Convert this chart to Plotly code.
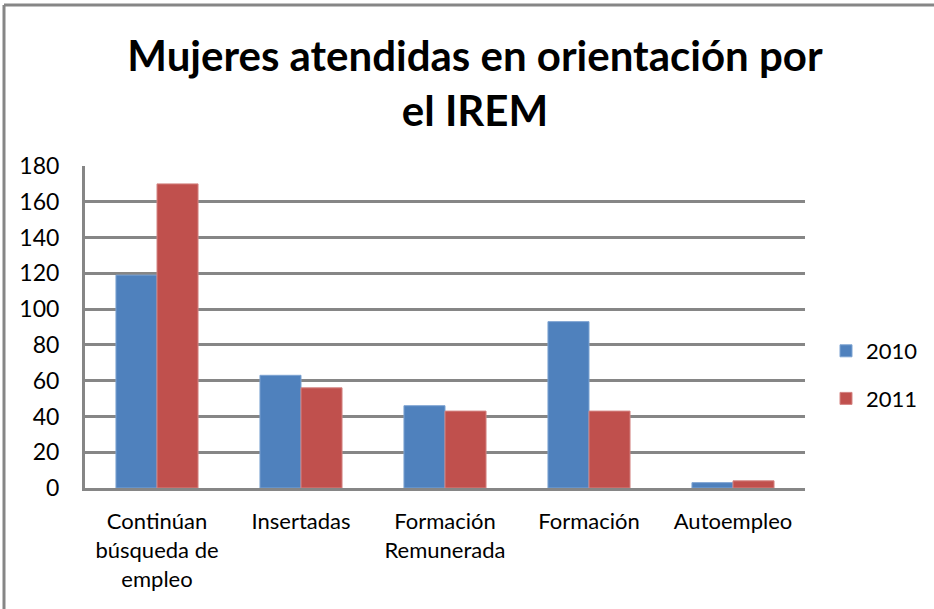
import plotly.graph_objects as go

categories = ["Continúan<br>búsqueda de<br>empleo", "Insertadas", "Formación<br>Remunerada", "Formación", "Autoempleo"]
values_2010 = [119, 63, 46, 93, 3]
values_2011 = [170, 56, 43, 43, 4]
y_ticks = [0, 20, 40, 60, 80, 100, 120, 140, 160, 180]

FONT = "Lato"
W, H = 934, 609
L, R, T, B = 85, 805, 166, 488

def px(x):
    return (x - L) / (R - L)

def py(y):
    return (B - y) / (B - T)

fig = go.Figure()
fig.add_trace(go.Bar(x=categories, y=values_2010, name="2010", marker=dict(color="#4F81BD", line=dict(color="#7DA3D2", width=1)), legendgroup="a"))
fig.add_trace(go.Bar(x=categories, y=values_2011, name="2011", marker=dict(color="#C0504D", line=dict(color="#D48583", width=1)), legendgroup="b"))

fig.update_layout(
    width=W, height=H,
    margin=dict(l=L, r=W - R, t=T, b=H - B, autoexpand=False),
    paper_bgcolor="white", plot_bgcolor="white",
    bargap=0.43, bargroupgap=0,
    font=dict(family=FONT, color="black", size=21),
    title=dict(text="<b>Mujeres atendidas en orientación por<br>el IREM</b>", x=475 / W, xanchor="center",
               y=1 - 71 / H, yanchor="middle", yref="container",
               font=dict(family=FONT, size=42, color="black")),
    legend=dict(x=px(826), xanchor="left", y=py(375), yanchor="middle", font=dict(size=22, family=FONT),
                tracegroupgap=16, itemwidth=30, bgcolor="rgba(0,0,0,0)"),
    xaxis=dict(showgrid=False, showline=True, linecolor="#868686", linewidth=3, ticks="",
               tickfont=dict(size=22, family=FONT), ticklabelstandoff=12),
    yaxis=dict(range=[0, 180], tickvals=y_ticks, showgrid=True, gridcolor="#868686", gridwidth=3,
               showline=True, linecolor="#868686", linewidth=3, ticks="", zeroline=False,
               tickfont=dict(size=23, family=FONT), ticklabelstandoff=18),
    shapes=[
        dict(type="line", xref="paper", yref="paper", x0=px(4), x1=px(934), y0=py(5), y1=py(5),
             line=dict(color="#868686", width=3)),
        dict(type="line", xref="paper", yref="paper", x0=px(4), x1=px(4), y0=py(5), y1=py(609),
             line=dict(color="#868686", width=3)),
    ],
)

fig.write_html("out.html", config={"displayModeBar": False},
               post_script="document.body.style.margin='0';document.body.style.overflow='hidden';")
